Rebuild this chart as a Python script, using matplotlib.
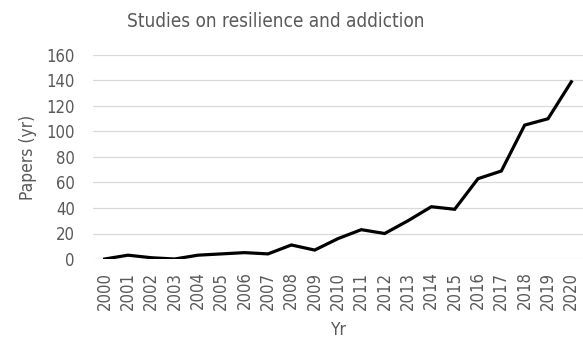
import matplotlib.pyplot as plt
import numpy as np

years = [str(y) for y in range(2000, 2021)]
papers = [0, 3, 1, 0, 3, 4, 5, 4, 11, 7, 16, 23, 20, 30, 41, 39, 63, 69, 105, 110, 139]

plt.rcParams['font.family'] = ['DejaVu Sans']
plt.rcParams['font.stretch'] = 'condensed'
grey = "#595959"

fig = plt.figure(figsize=(5.83, 3.49), dpi=100)
ax = fig.add_axes([93/583, 1 - 259/349, 1 - 93/583, 204/349])

x = np.arange(len(years))
ax.plot(x, papers, color="black", lw=2.3, solid_joinstyle="miter", zorder=3)

ax.set_xlim(-0.5, len(years) - 0.5)
ax.set_ylim(0, 160)
ax.set_yticks(np.arange(0, 161, 20))
ax.set_xticks(x)
ax.set_xticklabels(years, rotation=90)
ax.tick_params(length=0, labelsize=12, labelcolor=grey)
ax.tick_params(axis="y", pad=13)
ax.tick_params(axis="x", pad=9)
ax.grid(axis="y", color="#d9d9d9", lw=0.9)
ax.set_axisbelow(True)
for s in ax.spines.values():
    s.set_visible(False)

ax.set_ylabel("Papers (yr)", fontsize=12.5, color=grey, labelpad=7)
ax.set_xlabel("Yr", fontsize=12.5, color=grey, labelpad=8)
fig.text(0.473, 0.937, "Studies on resilience and addiction", ha="center", va="center",
         fontsize=13.6, color=grey)

fig.savefig("out.png", dpi=100)
plt.close(fig)
